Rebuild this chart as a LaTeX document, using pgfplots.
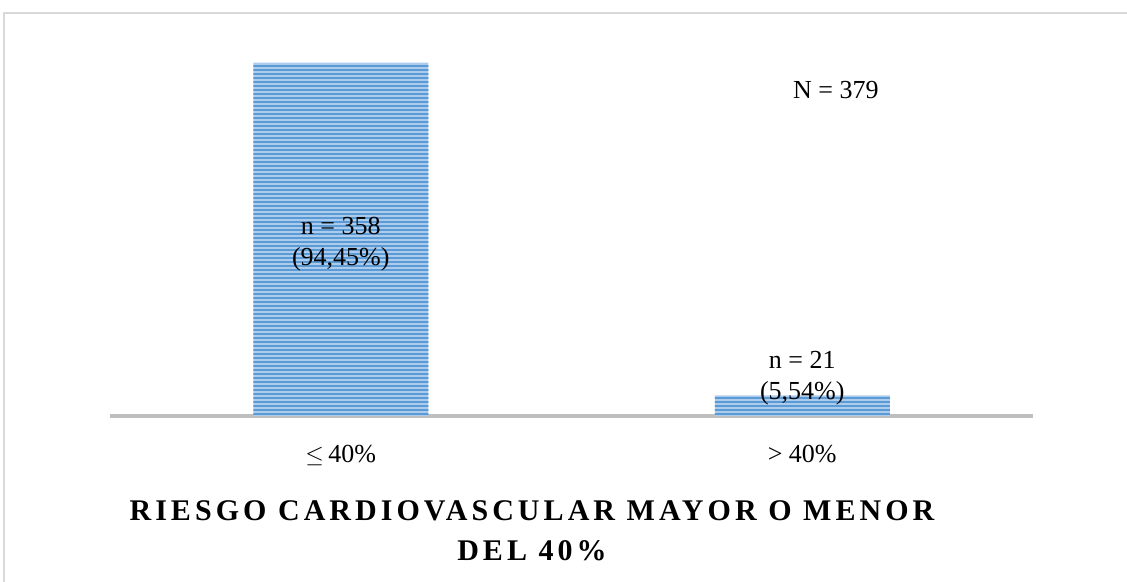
\documentclass[border=0pt]{standalone}
\usepackage{fontspec}
\setmainfont{Liberation Serif}
\newfontfamily\titlefont{Liberation Serif}[LetterSpace=13.5]
\usepackage{pgfplots}
\pgfplotsset{compat=1.18}
\usetikzlibrary{patterns.meta}
\definecolor{barlight}{HTML}{ADCBEC}
\definecolor{bardark}{HTML}{5B9BD5}
\definecolor{axgray}{HTML}{BFBFBF}
\definecolor{framegray}{HTML}{D9D9D9}
\begin{document}
\begin{tikzpicture}
\useasboundingbox (0,0) rectangle (563.5bp,291bp);
\draw[framegray, line width=0.6bp] (2bp,0) -- (2bp,284.5bp) -- (563.5bp,284.5bp);
\begin{axis}[
  at={(55bp,83bp)}, anchor=south west,
  scale only axis, width=461.5bp, height=187.35bp,
  xmin=-0.5, xmax=1.5, ymin=0, ymax=380,
  axis x line*=bottom, axis y line=none,
  x axis line style={draw=axgray, line width=2bp, -},
  xtick={0,1}, xticklabels={$\leq$\,40\%, > 40\%},
  major tick length=0pt, ytick=\empty,
  xticklabel style={anchor=base, yshift=-23.5bp, font=\fontsize{13bp}{15bp}\selectfont},
  clip=false,
  bar width=87.5bp,
]
\addplot[ybar, bar shift=0pt, draw=none, fill=barlight] coordinates {(0,358) (1,21)};
\addplot[ybar, bar shift=0pt, draw=none, pattern={Lines[angle=0,distance=2bp,line width=1.1bp]}, pattern color=bardark] coordinates {(0,358) (1,21)};
\begin{scope}[every node/.style={font=\fontsize{13bp}{15bp}\selectfont, anchor=base, inner sep=0pt}]
\node at (axis cs:0,183.6) {n = 358};
\node at (axis cs:0,153.1) {(94,45\%)};
\node at (axis cs:1,47.7) {n = 21};
\node at (axis cs:1,17.2) {(5,54\%)};
\node at (axis cs:1.0727,321.5) {N = 379};
\end{scope}
\end{axis}
\node[anchor=base, inner sep=0pt, font=\titlefont\bfseries\fontsize{15bp}{20bp}\selectfont] at (266bp,31bp) {RIESGO CARDIOVASCULAR MAYOR O MENOR};
\node[anchor=base, inner sep=0pt, font=\titlefont\bfseries\fontsize{15bp}{20bp}\selectfont] at (266bp,11bp) {DEL 40\%};
\end{tikzpicture}
\end{document}
